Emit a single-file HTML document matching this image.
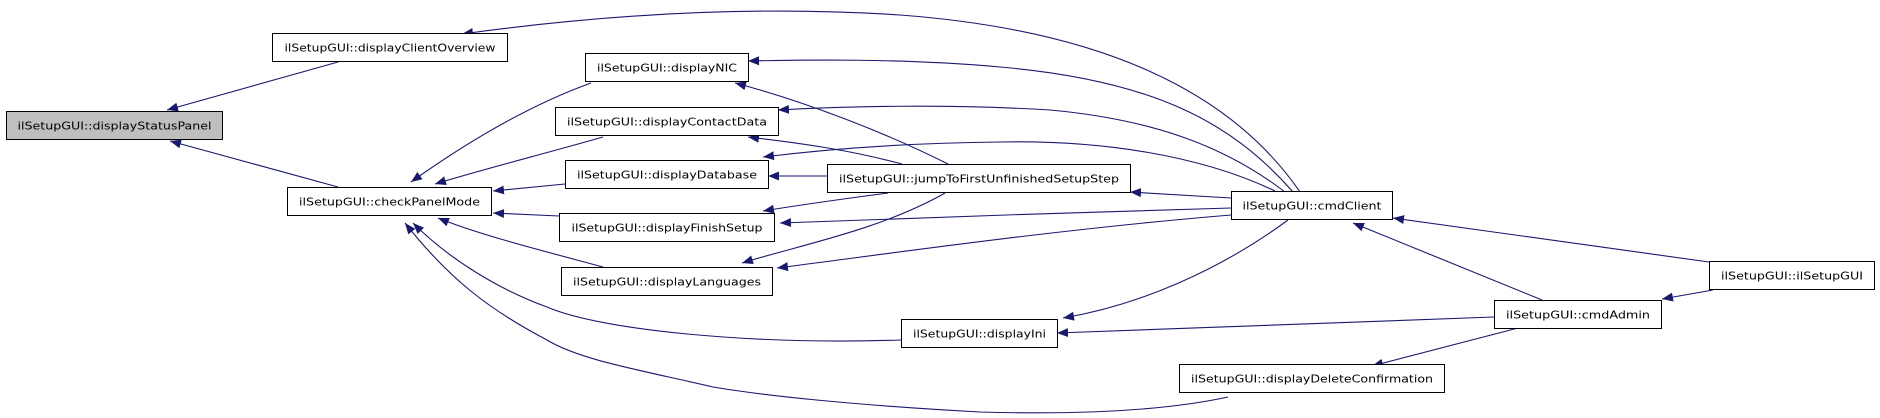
<!DOCTYPE html>
<html><head><meta charset="utf-8"><style>
html,body{margin:0;padding:0;background:#fff;width:1880px;height:418px;overflow:hidden}
svg{display:block}
text{font-family:"DejaVu Sans","Liberation Sans",sans-serif;font-size:11px;fill:#000}
</style></head><body>
<svg width="1880" height="418" viewBox="0 0 1880 418" xmlns="http://www.w3.org/2000/svg">
<defs>
<marker id="a" markerWidth="12" markerHeight="10" refX="11" refY="4.5" orient="auto" markerUnits="userSpaceOnUse">
<path d="M0,0 L11,4.5 L0,9 Z" fill="#191970"/>
</marker>
</defs>
<g fill="none" stroke="#191970" stroke-width="1.1" marker-end="url(#a)">
<path d="M338,62 L167,110"/>
<path d="M338,187 L170,141"/>
<path d="M1300,192 C1230,90 1100,30 900,15 C750,5 600,15 462,34"/>
<path d="M591,83 C530,105 470,140 411,182"/>
<path d="M603,137 C540,155 480,170 435,184"/>
<path d="M565,184 L493,191"/>
<path d="M559,216 L493,213"/>
<path d="M603,267 C540,250 480,235 438,218"/>
<path d="M901,340 C750,345 600,330 547,307 C500,290 450,260 413,223"/>
<path d="M1228,397 C1150,414 1050,414 980,412 C850,405 760,395 713,387 C640,370 580,360 547,340 C490,310 450,280 405,223"/>
<path d="M1293,192 C1230,120 1150,80 1000,67 C900,58 800,60 748,61"/>
<path d="M948,164 C880,130 800,100 735,83"/>
<path d="M1285,192 C1230,150 1160,120 1050,110 C950,104 850,106 778,110"/>
<path d="M902,164 C850,150 800,143 748,137"/>
<path d="M1275,191 C1200,155 1100,140 1000,142 C900,143 820,150 763,157"/>
<path d="M827,176 L768,176"/>
<path d="M1231,198 L1130,192"/>
<path d="M888,193 C850,198 800,205 763,211"/>
<path d="M1231,208 C1100,212 900,218 780,223"/>
<path d="M945,193 C880,230 800,245 742,263"/>
<path d="M1231,215 C1050,230 880,255 777,268"/>
<path d="M1288,220 C1220,270 1140,305 1063,318"/>
<path d="M1494,317 L1057,333"/>
<path d="M1542,300 L1353,223"/>
<path d="M1709,262 L1393,218"/>
<path d="M1713,290 L1662,299"/>
<path d="M1518,328 L1372,366"/>
</g>
<g stroke="#000" stroke-width="1">
<rect x="6.5" y="111.5" width="216" height="28" fill="#bfbfbf"/>
<rect x="272.5" y="33.5" width="235" height="28" fill="#fff"/>
<rect x="287.5" y="187.5" width="204" height="28" fill="#fff"/>
<rect x="585.5" y="53.5" width="163" height="28" fill="#fff"/>
<rect x="555.5" y="107.5" width="223" height="28" fill="#fff"/>
<rect x="565.5" y="160.5" width="203" height="28" fill="#fff"/>
<rect x="559.5" y="213.5" width="215" height="28" fill="#fff"/>
<rect x="561.5" y="267.5" width="211" height="28" fill="#fff"/>
<rect x="827.5" y="164.5" width="303" height="28" fill="#fff"/>
<rect x="1231.5" y="191.5" width="161" height="28" fill="#fff"/>
<rect x="901.5" y="319.5" width="156" height="28" fill="#fff"/>
<rect x="1179.5" y="364.5" width="265" height="28" fill="#fff"/>
<rect x="1494.5" y="300.5" width="167" height="28" fill="#fff"/>
<rect x="1709.5" y="261.5" width="165" height="28" fill="#fff"/>
</g>
<g text-anchor="middle">
<text x="114.5" y="129.5" textLength="194" lengthAdjust="spacingAndGlyphs">ilSetupGUI::displayStatusPanel</text>
<text x="390" y="51.5" textLength="211" lengthAdjust="spacingAndGlyphs">ilSetupGUI::displayClientOverview</text>
<text x="389.5" y="205.5" textLength="181" lengthAdjust="spacingAndGlyphs">ilSetupGUI::checkPanelMode</text>
<text x="667" y="71.5" textLength="140" lengthAdjust="spacingAndGlyphs">ilSetupGUI::displayNIC</text>
<text x="667" y="125.5" textLength="200" lengthAdjust="spacingAndGlyphs">ilSetupGUI::displayContactData</text>
<text x="667" y="178.5" textLength="180" lengthAdjust="spacingAndGlyphs">ilSetupGUI::displayDatabase</text>
<text x="667" y="231.5" textLength="191" lengthAdjust="spacingAndGlyphs">ilSetupGUI::displayFinishSetup</text>
<text x="667" y="285.5" textLength="188" lengthAdjust="spacingAndGlyphs">ilSetupGUI::displayLanguages</text>
<text x="979" y="182.5" textLength="280" lengthAdjust="spacingAndGlyphs">ilSetupGUI::jumpToFirstUnfinishedSetupStep</text>
<text x="1312" y="209.5" textLength="139" lengthAdjust="spacingAndGlyphs">ilSetupGUI::cmdClient</text>
<text x="979.5" y="337.5" textLength="133" lengthAdjust="spacingAndGlyphs">ilSetupGUI::displayIni</text>
<text x="1312" y="382.5" textLength="242" lengthAdjust="spacingAndGlyphs">ilSetupGUI::displayDeleteConfirmation</text>
<text x="1578" y="318.5" textLength="144" lengthAdjust="spacingAndGlyphs">ilSetupGUI::cmdAdmin</text>
<text x="1792" y="279.5" textLength="142" lengthAdjust="spacingAndGlyphs">ilSetupGUI::ilSetupGUI</text>
</g>
</svg>
</body></html>
